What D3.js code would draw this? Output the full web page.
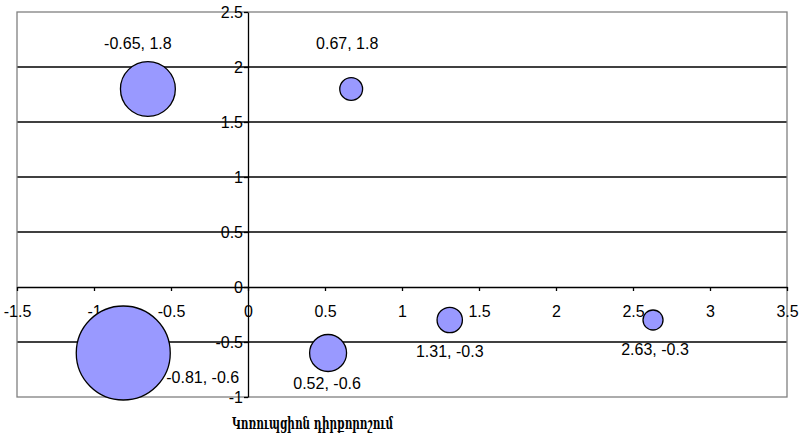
<!DOCTYPE html>
<head>
  <meta charset="utf-8">
  <style>
  body{
    margin:0;
    background:white;
  }
  .tick text, .label{
    font: 16px "Liberation Sans", Arial, sans-serif;
    fill: black;
  }
  .title{
    font: bold 17px "DejaVu Serif", serif;
    fill: black;
  }
  </style>
</head>
<body>
  <svg width="807" height="439"></svg>
  <script src="https://d3js.org/d3.v7.min.js"></script>
  <script>

  // data
  var xValues = [-0.65, 0.67, -0.81, 0.52, 1.31, 2.63];
  var yValues = [1.8, 1.8, -0.6, -0.6, -0.3, -0.3];
  var sizes   = [7.5, 1.3, 22, 3.4, 1.6, 1.0];
  var xTicks = [-1.5, -1, -0.5, 0, 0.5, 1, 1.5, 2, 2.5, 3, 3.5];
  var yTicks = [-1, -0.5, 0, 0.5, 1, 1.5, 2, 2.5];
  var xTitle = "Կոռուպցիոն դիրքորոշում";

  var svg = d3.select("svg");

  var x = d3.scaleLinear().domain([-1.5, 3.5]).range([17, 787]),
      y = d3.scaleLinear().domain([-1, 2.5]).range([397, 12]),
      r = d3.scaleSqrt().domain([0, 22]).range([0, 47]);

  var fmt = function(d) { return String(d); };

  // horizontal gridlines
  svg.append("g").selectAll("line")
    .data(yTicks.filter(function(d) { return d !== 0 && d !== -1 && d !== 2.5; }))
    .enter().append("line")
      .attr("x1", x(-1.5)).attr("x2", x(3.5))
      .attr("y1", function(d) { return y(d); }).attr("y2", function(d) { return y(d); })
      .attr("stroke", "black").attr("stroke-width", 1.3);

  // plot border
  svg.append("rect")
    .attr("x", x(-1.5)).attr("y", y(2.5))
    .attr("width", x(3.5) - x(-1.5)).attr("height", y(-1) - y(2.5))
    .attr("fill", "none").attr("stroke", "#808080").attr("stroke-width", 1.3);

  // axes crossing at zero
  svg.append("g")
      .attr("transform", "translate(0," + y(0) + ")")
      .call(d3.axisBottom(x).tickValues(xTicks).tickFormat(fmt).tickSize(4).tickSizeOuter(0).tickPadding(15));

  svg.append("g")
      .attr("transform", "translate(" + x(0) + ",0)")
      .call(d3.axisLeft(y).tickValues(yTicks).tickFormat(fmt).tickSize(4).tickSizeOuter(0).tickPadding(1));

  svg.selectAll(".domain, .tick line").attr("stroke", "black").attr("stroke-width", 1.3);
  svg.selectAll("g").attr("font-size", null).attr("font-family", null);

  // bubbles
  var points = xValues.map(function(v, i) { return { x: v, y: yValues[i], s: sizes[i] }; });

  svg.append("g").selectAll("circle")
    .data(points)
    .enter().append("circle")
      .attr("cx", function(d) { return x(d.x); })
      .attr("cy", function(d) { return y(d.y); })
      .attr("r", function(d) { return r(d.s); })
      .attr("fill", "#9999ff")
      .attr("stroke", "black")
      .attr("stroke-width", 1.3);

  // label placement as in the original (offset from bubble centre)
  var place = [
    { dx: -10, dy: -40, anchor: "middle" },
    { dx: -4, dy: -40, anchor: "middle" },
    { dx: 43, dy: 30, anchor: "start" },
    { dx: -1, dy: 36, anchor: "middle" },
    { dx: 0, dy: 37, anchor: "middle" },
    { dx: 2, dy: 35, anchor: "middle" }
  ];

  svg.append("g").selectAll("text")
    .data(points)
    .enter().append("text")
      .attr("class", "label")
      .attr("x", function(d, i) { return x(d.x) + place[i].dx; })
      .attr("y", function(d, i) { return y(d.y) + place[i].dy; })
      .attr("text-anchor", function(d, i) { return place[i].anchor; })
      .text(function(d) { return d.x + ", " + d.y; });

  svg.append("text")
    .attr("class", "title")
    .attr("x", 232)
    .attr("y", 429)
    .attr("textLength", 161)
    .attr("lengthAdjust", "spacingAndGlyphs")
    .text(xTitle);

  </script>
</body>
